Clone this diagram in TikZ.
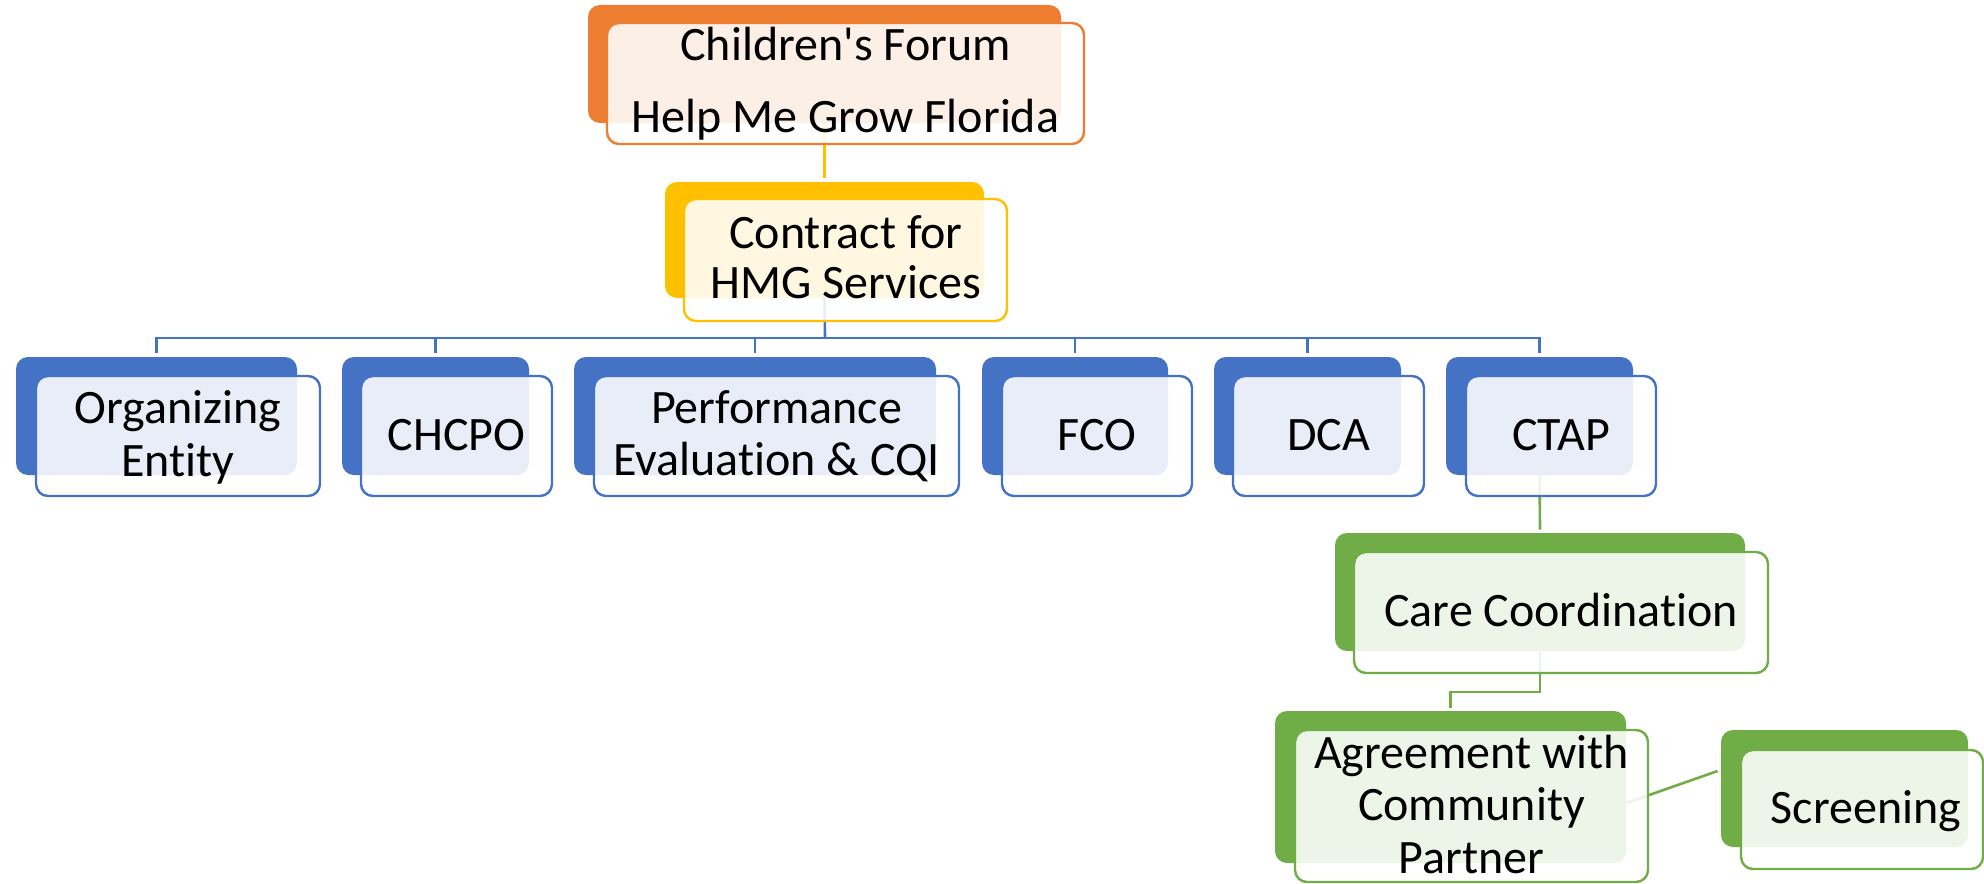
\documentclass[tikz,border=0pt]{standalone}
\usepackage{fontspec}
\setmainfont{Carlito}[Ligatures={NoCommon}]
\usetikzlibrary{fit,calc}
\pgfdeclarelayer{bg}
\pgfsetlayers{bg,main}
\definecolor{cOrange}{HTML}{ED7D31}
\definecolor{cYellow}{HTML}{FFC000}
\definecolor{cBlue}{HTML}{4472C4}
\definecolor{cGreen}{HTML}{70AD47}
\tikzset{
  backbox/.style={fit={#1}, inner sep=0pt, rounded corners=6pt, draw=none},
  frontbox/.style={fit={#1}, inner sep=0pt, rounded corners=6pt, fill=white, fill opacity=0.88, line width=1.2pt},
  lbl/.style={anchor=base, inner sep=0pt, font=\fontsize{24}{26}\selectfont, text=black},
  conn/.style={line width=1.3pt},
}
\newcommand{\card}[4]{%
  \node[backbox={#3}, fill=#2] (#1-b) {};
  \node[frontbox={#4}, draw=#2] (#1-f) {};
}
\begin{document}
\begin{tikzpicture}[x=0.5pt,y=-0.5pt]
\useasboundingbox (0,0) rectangle (1984,883);
% boxes
\card{cf}{cOrange}{(588,5)(1061,123)}{(607,23)(1084,144)}
\card{hmg}{cYellow}{(665,182)(984,298)}{(684,199)(1007,321)}
\card{oe}{cBlue}{(16,357)(297,475)}{(36,376)(320,496)}
\card{chc}{cBlue}{(342,357)(529,475)}{(361,376)(552,496)}
\card{pe}{cBlue}{(574,357)(936,475)}{(594,376)(959,496)}
\card{fco}{cBlue}{(982,357)(1168,475)}{(1002,376)(1192,496)}
\card{dca}{cBlue}{(1214,357)(1401,475)}{(1233,376)(1424,496)}
\card{ctap}{cBlue}{(1446,357)(1633,475)}{(1466,376)(1656,496)}
\card{care}{cGreen}{(1335,533)(1745,651)}{(1354,552)(1768,673)}
\card{agr}{cGreen}{(1275,711)(1626,863)}{(1295,730)(1648,882)}
\card{scr}{cGreen}{(1721,730)(1968,847)}{(1741,750)(1983,869)}
% labels
\node[lbl] (cf-t1) at (845.5,61) {Children\textquotesingle s Forum};
\node[lbl] (cf-t2) at (845.5,133) {Help Me Grow Florida};
\node[lbl] (hmg-t1) at (846,248) {Contract for};
\node[lbl] (hmg-t2) at (846,298) {HMG Services};
\node[lbl] (oe-t1) at (178,423) {Organizing};
\node[lbl] (oe-t2) at (178,476) {Entity};
\node[lbl] (chc-t) at (456.5,450) {CHCPO};
\node[lbl] (pe-t1) at (776.5,423) {Performance};
\node[lbl] (pe-t2) at (776.5,475) {Evaluation \& CQI};
\node[lbl] (fco-t) at (1097,450) {FCO};
\node[lbl] (dca-t) at (1328.5,450) {DCA};
\node[lbl] (ctap-t) at (1561,450) {CTAP};
\node[lbl] (care-t) at (1561,626) {Care Coordination};
\node[lbl] (agr-t1) at (1471.5,768) {Agreement with};
\node[lbl] (agr-t2) at (1471.5,820) {Community};
\node[lbl] (agr-t3) at (1471.5,873) {Partner};
\node[lbl] (scr-t) at (1866,823) {Screening};
% connectors
\coordinate (bus) at (825,338);
\coordinate (elb) at (1540,692);
\begin{pgfonlayer}{bg}
\draw[conn, cYellow] (cf-b.south) -- ([yshift=2pt]hmg-b.north);
\draw[conn, cBlue] (hmg-b.south) -- (bus);
\foreach \n in {oe,chc,pe,fco,dca,ctap}
  \draw[conn, cBlue] (bus) -| ([yshift=2pt]\n-b.north);
\draw[conn, cGreen] (ctap-b.south) -- ([yshift=1.5pt]care-b.north);
\draw[conn, cGreen] (care-b.south) -- (elb) -| ([yshift=1.5pt]agr-b.north);
\draw[conn, cGreen] ([yshift=-8pt]agr-b.east) -- ([xshift=-1.5pt,yshift=8.75pt]scr-b.west);
\end{pgfonlayer}
\end{tikzpicture}
\end{document}
